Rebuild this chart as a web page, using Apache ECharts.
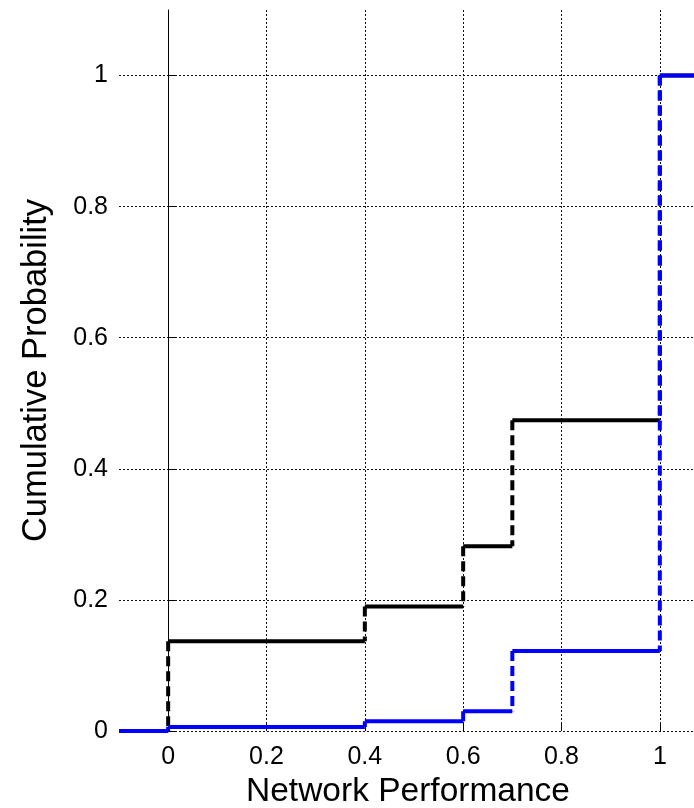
<!DOCTYPE html>
<html>
<head>
<meta charset="utf-8">
<script src="https://cdn.jsdelivr.net/npm/echarts@6/dist/echarts.min.js"></script>
<style>
html,body{margin:0;padding:0;background:#fff;}
#chart{width:694px;height:808px;}
</style>
</head>
<body>
<div id="chart"></div>
<script>
// Step positions (x) and cumulative probability after each step
var stepX = [-0.1, 0, 0.4, 0.6, 0.7, 1, 1.1];
var blackCDF = [0, 0.137, 0.19, 0.282, 0.474, 1];
var blueCDF = [0, 0.006, 0.015, 0.03, 0.122, 1];
var xTicks = [0, 0.2, 0.4, 0.6, 0.8, 1];
var yTicks = [0, 0.2, 0.4, 0.6, 0.8, 1];

function horizontal(xs, ys) {
  var d = [];
  for (var i = 0; i < ys.length; i++) {
    d.push([xs[i], ys[i]]);
    d.push([xs[i + 1], ys[i]]);
    d.push([xs[i + 1], '-']);
  }
  return d;
}
function vertical(xs, ys) {
  var d = [];
  for (var i = 1; i < ys.length; i++) {
    d.push([xs[i], ys[i]]);
    d.push([xs[i], ys[i - 1]]);
    d.push([xs[i], '-']);
  }
  return d;
}

var font = '"Liberation Sans", Arial, sans-serif';
var chart = echarts.init(document.getElementById('chart'));
chart.setOption({
  animation: false,
  backgroundColor: '#fff',
  grid: { left: 119, top: 10, right: -15, bottom: 77, containLabel: false, outerBoundsMode: 'none' },
  xAxis: {
    type: 'value', min: -0.1, max: 1.1,
    name: 'Network Performance', nameLocation: 'middle', nameGap: 42,
    nameTextStyle: { fontFamily: font, fontSize: 33.5, color: '#000', padding: [0, 12, 0, 0] },
    axisLine: { show: false },
    axisTick: { show: true, inside: true, length: 7, customValues: xTicks, lineStyle: { color: '#000', width: 1 } },
    axisLabel: { customValues: xTicks, fontFamily: font, fontSize: 25, color: '#000', margin: 14,
      formatter: function (v) { return String(Math.round(v * 10) / 10); } },
    splitLine: { show: true, lineStyle: { color: '#111', width: 1, type: [2, 2] } }
  },
  yAxis: {
    type: 'value', min: 0, max: 1.1,
    name: 'Cumulative Probability', nameLocation: 'middle', nameGap: 65,
    nameTextStyle: { fontFamily: font, fontSize: 34.5, color: '#000' },
    axisLine: { show: true, lineStyle: { color: '#000', width: 1 } },
    axisTick: { show: true, inside: true, length: 7, customValues: yTicks, lineStyle: { color: '#000', width: 1 } },
    axisLabel: { customValues: yTicks, fontFamily: font, fontSize: 25, color: '#000', margin: 11,
      formatter: function (v) { return String(Math.round(v * 10) / 10); } },
    splitLine: { show: true, lineStyle: { color: '#111', width: 1, type: [2, 2] } }
  },
  series: [
    { type: 'line', data: horizontal(stepX, blackCDF), symbol: 'none', connectNulls: false,
      lineStyle: { color: '#000', width: 4, type: 'solid', cap: 'butt' }, z: 2 },
    { type: 'line', data: vertical(stepX, blackCDF), symbol: 'none', connectNulls: false,
      lineStyle: { color: '#000', width: 4, type: [10, 5], cap: 'butt' }, z: 2 },
    { type: 'line', data: horizontal(stepX, blueCDF), symbol: 'none', connectNulls: false,
      lineStyle: { color: '#0000ff', width: 4, type: 'solid', cap: 'butt' }, z: 3 },
    { type: 'line', data: vertical(stepX, blueCDF), symbol: 'none', connectNulls: false,
      lineStyle: { color: '#0000ff', width: 4, type: [10, 5], cap: 'butt' }, z: 3 }
  ]
});
</script>
</body>
</html>
